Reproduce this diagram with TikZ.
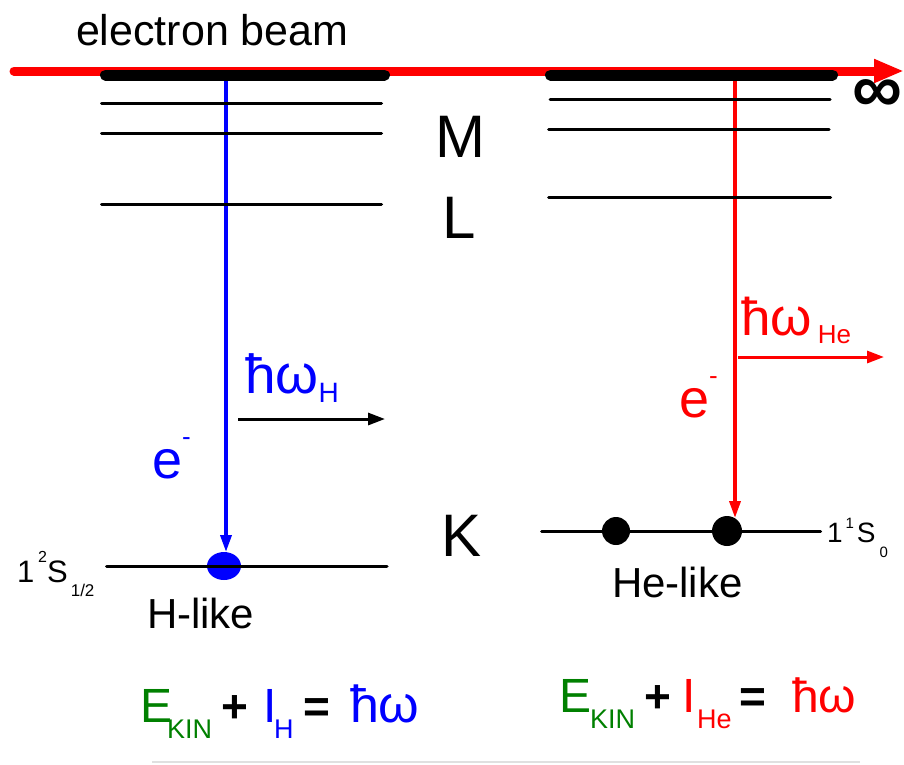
\documentclass[tikz,border=0pt]{standalone}
\usepackage{fontspec}
\setmainfont{Liberation Sans}
\usetikzlibrary{arrows.meta}
\definecolor{eqgreen}{RGB}{0,128,0}
\definecolor{pblue}{RGB}{0,0,255}
\definecolor{pred}{RGB}{255,0,0}
\newcommand{\fs}[1]{\fontsize{#1}{#1}\selectfont}
\begin{document}
\begin{tikzpicture}[x=1pt,y=-1pt,
  level/.style={line width=3pt, line cap=round},
  topbar/.style={line width=11pt, line cap=round},
  txt/.style={inner sep=0pt, outer sep=0pt, anchor=base west},
  shell/.style={inner sep=0pt, outer sep=0pt, font=\fs{60}},
  vtrans/.style={line width=3.5pt, -{Triangle[length=17pt,width=11pt]}},
  photon/.style={line width=3pt, -{Triangle[length=17pt,width=12pt]}}]
\useasboundingbox (0,0) rectangle (904,764);

% electron beam
\coordinate (b0) at (14,71);
\coordinate (b1) at (904,71);
\draw[pred, line width=9pt, line cap=round, -{Triangle[length=30pt,width=22pt]}] (b0) -- (b1);
\node[txt, font=\fs{43}] (beam) at (76,45) {electron beam};

% vertical transitions (under the bars and levels)
\coordinate (ha) at (226,78);
\coordinate (hb) at (226,552);
\coordinate (ea) at (735,78);
\coordinate (eb) at (735,518);
\fill[pblue] (224,566) ellipse [x radius=17pt, y radius=14pt];
\draw[vtrans, pblue] (ha) -- (hb);
\draw[vtrans, pred] (ea) -- (eb);

% top bars
\draw[topbar] (105.5,75) -- (384.5,75);
\draw[topbar] (550.5,75) -- (832.5,75);

% left levels
\draw[level] (101.5,103) -- (381.5,103);
\draw[level] (101.5,133) -- (381.5,133);
\draw[level] (101.5,204) -- (381.5,204);
\draw[level] (106.5,566) -- (387,566);

% right levels
\draw[level] (550,99) -- (830,99);
\draw[level] (548.5,129) -- (829,129);
\draw[level] (548.5,197) -- (830.5,197);
\draw[level] (541.5,531) -- (820.5,531);
\fill (616,531) circle [radius=14pt];
\fill (727,531) circle [radius=15pt];

% infinity
\node[inner sep=0pt, font=\fs{70}\bfseries] (inf) at (877,96) {∞};

% shell labels
\node[shell] (M) at (460,137) {M};
\node[shell] (L) at (459,218) {L};
\node[shell] (K) at (462,536) {K};

% H-like side
\node[txt, pblue, font=\fs{54}] (eH) at (152,478) {e\raisebox{33pt}{\fs{26}-}};
\node[txt, pblue] (wH) at (245,393) {\fs{55}ħω\raisebox{-9pt}{\fs{28}H}};
\coordinate (pHa) at (238,419);
\coordinate (pHb) at (385,419);
\draw[photon] (pHa) -- (pHb);
\node[txt, font=\fs{31}] (sH) at (17,582) {1\hspace{4pt}\raisebox{20pt}{\fs{16}2}S\hspace{3pt}\raisebox{-14pt}{\fs{17}1/2}};
\node[txt, font=\fs{42}] (hlike) at (147,628) {H-like};

% He-like side
\node[txt, pred, font=\fs{54}] (eHe) at (679,417) {e\raisebox{33pt}{\fs{26}-}};
\node[txt, pred] (wHe) at (741,335) {\fs{53}ħω\hspace{6pt}\raisebox{-8pt}{\fs{26}He}};
\coordinate (pEa) at (738,357);
\coordinate (pEb) at (884,357);
\draw[photon, pred] (pEa) -- (pEb);
\node[txt, font=\fs{28}] (sHe) at (827,542) {1\hspace{3pt}\raisebox{14pt}{\fs{15}1}\hspace{3pt}S\hspace{4pt}\raisebox{-15pt}{\fs{15}0}};
\node[txt, font=\fs{42}] (helike) at (612,597) {He-like};

% equations
\node[txt, eqgreen, font=\fs{48}] (E1) at (140,722) {E};
\node[txt, eqgreen, font=\fs{27}] (K1) at (167,738) {KIN};
\node[txt, font=\fs{46}\bfseries] (p1) at (221,722) {+};
\node[txt, pblue, font=\fs{48}] (I1) at (263,722) {I};
\node[txt, pblue, font=\fs{27}] (H1) at (274,738) {H};
\node[txt, font=\fs{46}\bfseries] (q1) at (303,722) {=};
\node[txt, pblue, font=\fs{52}] (w1) at (350,722) {ħω};

\node[txt, eqgreen, font=\fs{48}] (E2) at (559,712) {E};
\node[txt, eqgreen, font=\fs{27}] (K2) at (590,728) {KIN};
\node[txt, font=\fs{46}\bfseries] (p2) at (644,712) {+};
\node[txt, pred, font=\fs{48}] (I2) at (682,712) {I};
\node[txt, pred, font=\fs{27}] (He2) at (697,728) {He};
\node[txt, font=\fs{46}\bfseries] (q2) at (739,712) {=};
\node[txt, pred, font=\fs{48}] (w2) at (792,712) {ħω};

% bottom rule
\coordinate (r0) at (152,762);
\coordinate (r1) at (860,762);
\draw[black!12, line width=1.5pt] (r0) -- (r1);
\end{tikzpicture}
\end{document}
